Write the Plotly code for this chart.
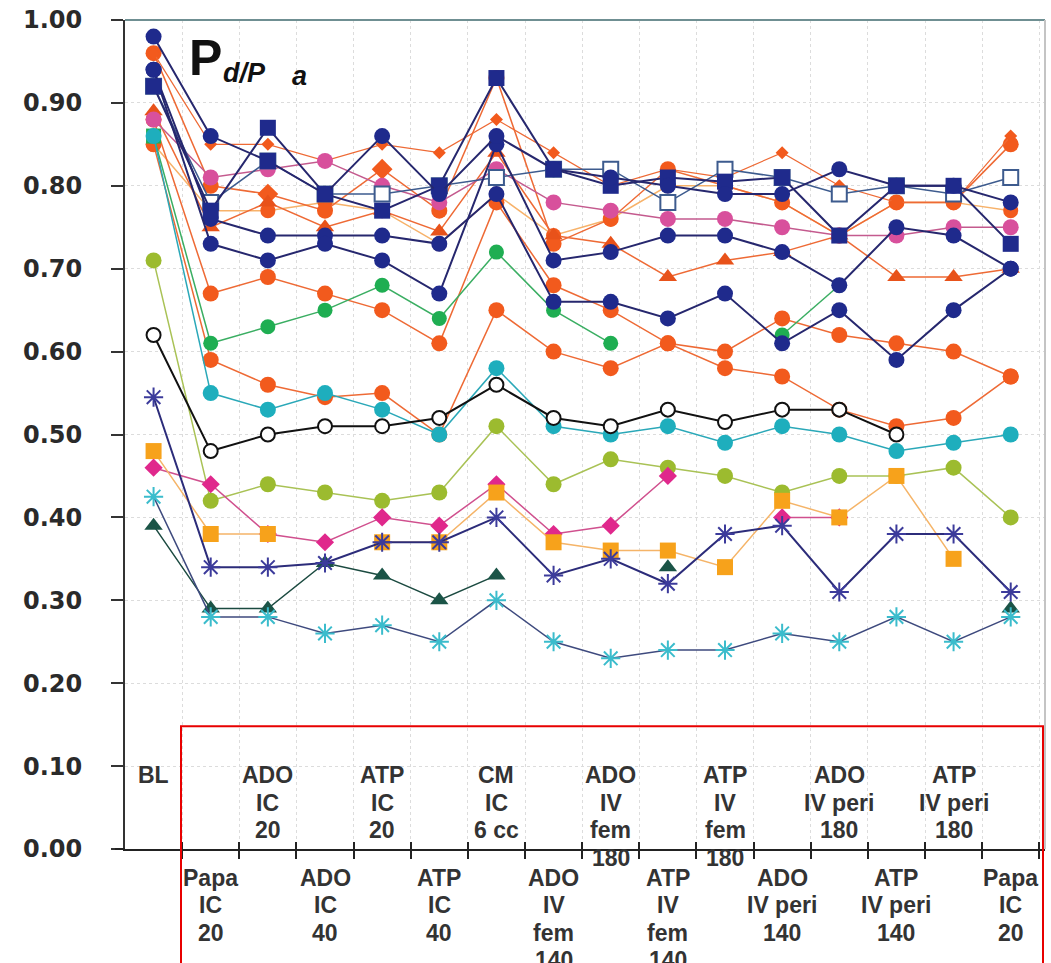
import plotly.graph_objects as go

# ---------------- data ----------------
categories = ["BL", "Papa IC 20", "ADO IC 20", "ADO IC 40", "ATP IC 20", "ATP IC 40",
              "CM IC 6 cc", "ADO IV fem 140", "ADO IV fem 180", "ATP IV fem 140",
              "ATP IV fem 180", "ADO IV peri 140", "ADO IV peri 180", "ATP IV peri 140",
              "ATP IV peri 180", "Papa IC 20"]
label_lines = [["BL"], ["Papa", "IC", "20"], ["ADO", "IC", "20"], ["ADO", "IC", "40"],
               ["ATP", "IC", "20"], ["ATP", "IC", "40"], ["CM", "IC", "6 cc"],
               ["ADO", "IV", "fem", "140"], ["ADO", "IV", "fem", "180"],
               ["ATP", "IV", "fem", "140"], ["ATP", "IV", "fem", "180"],
               ["ADO", "IV peri", "140"], ["ADO", "IV peri", "180"],
               ["ATP", "IV peri", "140"], ["ATP", "IV peri", "180"], ["Papa", "IC", "20"]]
y_ticks = [0.0, 0.1, 0.2, 0.3, 0.4, 0.5, 0.6, 0.7, 0.8, 0.9, 1.0]

orange_a = [0.85, 0.59, 0.56, 0.545, 0.55, 0.50, 0.65, 0.60, 0.58, 0.61, 0.58, 0.57, 0.53, 0.51, 0.52, 0.57]
orange_b = [0.88, 0.67, 0.69, 0.67, 0.65, 0.61, 0.78, 0.68, 0.65, 0.61, 0.60, 0.64, 0.62, 0.61, 0.60, 0.57]
orange_c = [0.85, 0.77, 0.77, 0.78, 0.77, 0.73, 0.79, 0.74, 0.76, 0.80, 0.80, 0.78, 0.74, 0.78, 0.78, 0.77]
orange_top = [0.96, 0.80, 0.79, 0.77, 0.82, 0.77, 0.93, 0.73, 0.76, 0.82, 0.80, 0.78, 0.74, 0.78, 0.78, 0.85]
orange_small = [0.96, 0.85, 0.85, 0.83, 0.85, 0.84, 0.88, 0.84, 0.80, 0.82, 0.81, 0.84, 0.80, 0.78, 0.78, 0.86]
orange_tri = [0.89, 0.75, 0.78, 0.75, 0.77, 0.745, 0.84, 0.74, 0.73, 0.69, 0.71, 0.72, 0.74, 0.69, 0.69, 0.70]
magenta_circ = [0.88, 0.81, 0.82, 0.83, 0.80, 0.78, 0.82, 0.78, 0.77, 0.76, 0.76, 0.75, 0.74, 0.74, 0.75, 0.75]
green_circ = [0.86, 0.61, 0.63, 0.65, 0.68, 0.64, 0.72, 0.65, 0.61, None, None, 0.62, 0.68, None, 0.65, None]
teal_circ = [0.86, 0.55, 0.53, 0.55, 0.53, 0.50, 0.58, 0.51, 0.50, 0.51, 0.49, 0.51, 0.50, 0.48, 0.49, 0.50]
black_open = [0.62, 0.48, 0.50, 0.51, 0.51, 0.52, 0.56, 0.52, 0.51, 0.53, 0.515, 0.53, 0.53, 0.50, None, None]
yellowgreen_circ = [0.71, 0.42, 0.44, 0.43, 0.42, 0.43, 0.51, 0.44, 0.47, 0.46, 0.45, 0.43, 0.45, 0.45, 0.46, 0.40]
magenta_diam = [0.46, 0.44, 0.38, 0.37, 0.40, 0.39, 0.44, 0.38, 0.39, 0.45, None, 0.40, 0.40, None, None, None]
orange_sq = [0.48, 0.38, 0.38, None, 0.37, 0.37, 0.43, 0.37, 0.36, 0.36, 0.34, 0.42, 0.40, 0.45, 0.35, None]
navy_ast = [0.545, 0.34, 0.34, 0.345, 0.37, 0.37, 0.40, 0.33, 0.35, 0.32, 0.38, 0.39, 0.31, 0.38, 0.38, 0.31]
cyan_ast = [0.425, 0.28, 0.28, 0.26, 0.27, 0.25, 0.30, 0.25, 0.23, 0.24, 0.24, 0.26, 0.25, 0.28, 0.25, 0.28]
dark_tri = [0.39, 0.29, 0.29, 0.345, 0.33, 0.30, 0.33, None, None, 0.34, None, None, None, None, None, 0.29]
open_sq = [0.92, 0.78, 0.83, 0.79, 0.79, 0.80, 0.81, 0.82, 0.82, 0.78, 0.82, 0.81, 0.79, 0.80, 0.79, 0.81]
navy_sq = [0.92, 0.77, 0.87, 0.79, 0.77, 0.80, 0.93, 0.82, 0.80, 0.81, 0.805, 0.81, 0.74, 0.80, 0.80, 0.73]
navy_c1 = [0.98, 0.86, 0.83, 0.79, 0.86, 0.79, 0.86, 0.82, 0.81, 0.80, 0.79, 0.79, 0.82, 0.80, 0.80, 0.78]
navy_c2 = [0.94, 0.73, 0.71, 0.73, 0.71, 0.67, 0.85, 0.71, 0.72, 0.74, 0.74, 0.72, 0.68, 0.75, 0.74, 0.70]
navy_c3 = [0.94, 0.76, 0.74, 0.74, 0.74, 0.73, 0.79, 0.66, 0.66, 0.64, 0.67, 0.61, 0.65, 0.59, 0.65, 0.70]

# ---------------- styles ----------------
NAVY = "#1f2a8c"
NAVY_LINE = "#26276e"
ORANGE = "#f25a1d"
ORANGE_LINE = "#ee6a35"

n = len(categories)
xs = list(range(n))

def sym(base, special=None):
    s = [base] * n
    if special:
        for i, v in special.items():
            s[i] = v
    return s

styles = [
    (orange_c, dict(symbol="circle", size=15, color=ORANGE), "#f7b26a", 1.5),
    (orange_a, dict(symbol="circle", size=16, color=ORANGE), ORANGE_LINE, 1.5),
    (orange_b, dict(symbol="circle", size=16, color=ORANGE), ORANGE_LINE, 1.5),
    (orange_top, dict(symbol=sym("circle", {2: "diamond", 4: "diamond"}), size=16, color=ORANGE), ORANGE_LINE, 1.5),
    (orange_small, dict(symbol="diamond", size=10, color=ORANGE), ORANGE_LINE, 1.2),
    (orange_tri, dict(symbol="triangle-up", size=16, color="#e8521a"), ORANGE_LINE, 1.5),
    (magenta_circ, dict(symbol="circle", size=16, color="#d8509c"), "#c45a8e", 1.5),
    (green_circ, dict(symbol=sym("circle", {0: "square"}), size=15, color="#1fae52"), "#3aae62", 1.5),
    (teal_circ, dict(symbol="circle", size=16, color="#1eaebd"), "#2aa8b8", 1.5),
    (yellowgreen_circ, dict(symbol="circle", size=16, color="#9cbb2f"), "#a9c255", 1.5),
    (magenta_diam, dict(symbol="diamond", size=14, color="#e0288c"), "#d0508e", 1.5),
    (orange_sq, dict(symbol="square", size=16, color="#f7a21b"), "#f5b468", 1.5),
    (black_open, dict(symbol="circle", size=14, color="white", line=dict(color="#111111", width=2)), "#111111", 2),
    (dark_tri, dict(symbol="triangle-up", size=16, color="#1b5447"), "#1b4a40", 1.5),
    (cyan_ast, dict(symbol="asterisk-open", size=16, color="#3bbccc", line=dict(color="#3bbccc", width=2)), "#3e4a7e", 1.5),
    (navy_ast, dict(symbol="asterisk-open", size=16, color="#3c3b9b", line=dict(color="#3c3b9b", width=2)), "#2c2c7a", 2),
    (open_sq, dict(symbol="square", size=15, color="white", line=dict(color="#3d5b8e", width=2)), "#3d5b8e", 1.5),
    (navy_c3, dict(symbol="circle", size=16, color=NAVY), NAVY_LINE, 2),
    (navy_c2, dict(symbol="circle", size=16, color=NAVY), NAVY_LINE, 2),
    (navy_sq, dict(symbol="square", size=16, color=NAVY), NAVY_LINE, 2),
    (navy_c1, dict(symbol=sym("circle", {2: "square"}), size=16, color=NAVY), NAVY_LINE, 2),
]

fig = go.Figure()
for vals, marker, lcol, lw in styles:
    fig.add_trace(go.Scatter(x=xs, y=vals, mode="lines+markers", marker=marker,
                             line=dict(color=lcol, width=lw), connectgaps=False,
                             showlegend=False, hoverinfo="skip", cliponaxis=False))

# dummy trace for overlay axis (inside tick halves)
fig.add_trace(go.Scatter(x=[], y=[], xaxis="x2", showlegend=False))

# ---------------- layout ----------------
L, R, T, B = 125, 6, 18, 114
W, H = 1051, 963
pw, ph = W - L - R, H - T - B

def px_x(px):
    return (px - L) / pw

def px_y(py):
    return (H - B - py) / ph

boundaries = [i + 0.5 for i in range(n)]
xrange_ = [-0.5, n - 0.4]

fig.update_layout(
    width=W, height=H, autosize=False,
    margin=dict(l=L, r=R, t=T, b=B),
    paper_bgcolor="white", plot_bgcolor="white",
    xaxis=dict(range=xrange_, tickmode="array", tickvals=boundaries, showticklabels=False,
               ticks="outside", ticklen=8, tickwidth=2, tickcolor="#222222",
               showgrid=True, gridcolor="#dcdcdc", griddash="dot", gridwidth=1,
               showline=True, linecolor="#222222", linewidth=2, zeroline=False, fixedrange=True),
    xaxis2=dict(range=xrange_, overlaying="x", anchor="y", side="bottom", tickmode="array",
                tickvals=boundaries, showticklabels=False, ticks="inside", ticklen=7,
                tickwidth=2, tickcolor="#222222", showgrid=False, showline=False, zeroline=False),
    yaxis=dict(range=[0, 1.0], tickmode="array", tickvals=y_ticks,
               ticktext=[f"{v:.2f}" for v in y_ticks],
               tickfont=dict(family="DejaVu Sans", size=24, color="#2a2a2a", weight="bold"),
               ticks="outside", ticklen=12, tickwidth=2, tickcolor="#333333",
               ticklabelstandoff=24,
               showgrid=True, gridcolor="#dcdcdc", griddash="dot", gridwidth=1,
               showline=True, linecolor="#333333", linewidth=2, zeroline=False),
)

annotations = []
# category labels: even indices above the axis, odd below
top_rows = [775, 803, 830, 858]
bot_rows = [878, 905, 933, 960]
for i, lines in enumerate(label_lines):
    rows = top_rows if i % 2 == 0 else bot_rows
    for j, txt in enumerate(lines):
        annotations.append(dict(x=i, y=px_y(rows[j]), xref="x", yref="paper",
                                text=f"<b>{txt}</b>", showarrow=False,
                                xanchor="center", yanchor="middle",
                                font=dict(family="Liberation Sans, Arial", size=23, color="#333333")))

# title P d/P a
annotations.append(dict(x=px_x(187), y=px_y(56), xref="paper", yref="paper",
                        text="<b>P</b>", showarrow=False, xanchor="left", yanchor="middle",
                        font=dict(family="Liberation Sans, Arial", size=50, color="#111111")))
annotations.append(dict(x=px_x(221), y=px_y(71), xref="paper", yref="paper",
                        text="<b><i>d/P</i></b>", showarrow=False, xanchor="left", yanchor="middle",
                        font=dict(family="Liberation Sans, Arial", size=27, color="#111111")))
annotations.append(dict(x=px_x(290), y=px_y(74), xref="paper", yref="paper",
                        text="<b><i>a</i></b>", showarrow=False, xanchor="left", yanchor="middle",
                        font=dict(family="Liberation Sans, Arial", size=27, color="#111111")))
fig.update_layout(annotations=annotations)

shapes = [
    # top border
    dict(type="line", xref="paper", yref="paper", x0=0, x1=1, y0=1, y1=1,
         line=dict(color="#6f8f92", width=2)),
    # right border
    dict(type="line", xref="paper", yref="paper", x0=1, x1=1, y0=0, y1=1,
         line=dict(color="#c4c4c4", width=2)),
    # x axis extension left of y axis
    dict(type="line", xref="paper", yref="paper", x0=px_x(115), x1=0, y0=0, y1=0,
         line=dict(color="#222222", width=2)),
    # red highlight box
    dict(type="rect", xref="paper", yref="paper", x0=px_x(181), x1=px_x(1043),
         y0=px_y(726), y1=px_y(990), line=dict(color="#e80000", width=2),
         fillcolor="rgba(0,0,0,0)"),
]
fig.update_layout(shapes=shapes)

fig.write_html("out.html")
